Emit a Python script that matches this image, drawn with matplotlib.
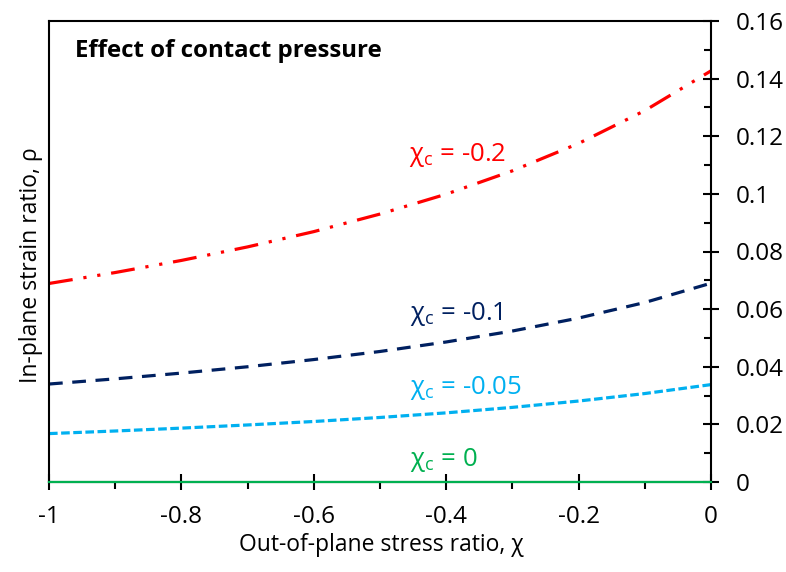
import matplotlib
matplotlib.use('Agg')
import matplotlib.pyplot as plt
from matplotlib.ticker import MultipleLocator

plt.rcParams['font.family'] = ['Open Sans', 'DejaVu Sans']
plt.rcParams['mathtext.fontset'] = 'custom'
plt.rcParams['mathtext.rm'] = 'Open Sans'

# out-of-plane stress ratio
chi = [-1.0, -0.9, -0.8, -0.7, -0.6, -0.5, -0.4, -0.3, -0.2, -0.1, 0.0]

# in-plane strain ratio for each contact pressure
rho_02 = [0.0689, 0.0727, 0.0769, 0.0816, 0.0869, 0.0930, 0.0999, 0.1080, 0.1175, 0.1289, 0.1427]
rho_01 = [0.0340, 0.0358, 0.0378, 0.0400, 0.0425, 0.0453, 0.0486, 0.0524, 0.0569, 0.0623, 0.0690]
rho_005 = [0.0168, 0.0177, 0.0187, 0.0198, 0.0210, 0.0224, 0.0240, 0.0259, 0.0281, 0.0307, 0.0338]
rho_0 = [0.0] * len(chi)

labels = ['χ$_\\mathrm{c}$ = -0.2', 'χ$_\\mathrm{c}$ = -0.1',
          'χ$_\\mathrm{c}$ = -0.05', 'χ$_\\mathrm{c}$ = 0']
label_pos = [(-0.456, 0.1135), (-0.454, 0.0583), (-0.454, 0.0326), (-0.454, 0.0076)]
colors = ['#FF0000', '#002060', '#00B0F0', '#00B050']

fig = plt.figure(figsize=(7.86, 5.72), dpi=100)
ax = fig.add_axes([49/786, 1-482/572, (711-49)/786, (482-21)/572])

ax.plot(chi, rho_02, color=colors[0], lw=2.3, dashes=(7.5, 3.4, 1, 3.4, 1, 3.4))
ax.plot(chi, rho_01, color=colors[1], lw=2.3, dashes=(4.3, 3))
ax.plot(chi, rho_005, color=colors[2], lw=2.3, dashes=(2.7, 1.1))
ax.plot(chi, rho_0, color=colors[3], lw=1.6, zorder=4, clip_on=False)

for lab, (x, y), c in zip(labels, label_pos, colors):
    ax.text(x, y, lab, color=c, fontsize=18.5, va='center', ha='left')

ax.text(0.039, 0.935, 'Effect of contact pressure', transform=ax.transAxes,
        fontsize=17.3, fontweight='bold', va='center', ha='left')

ax.set_xlim(-1, 0)
ax.set_ylim(0, 0.16)
ax.yaxis.tick_right()
ax.xaxis.set_major_locator(MultipleLocator(0.2))
ax.xaxis.set_minor_locator(MultipleLocator(0.1))
ax.yaxis.set_major_locator(MultipleLocator(0.02))
ax.yaxis.set_minor_locator(MultipleLocator(0.01))
ax.xaxis.set_major_formatter(plt.FuncFormatter(lambda v, p: '0' if abs(v) < 1e-9 else ('%g' % v)))
ax.yaxis.set_major_formatter(plt.FuncFormatter(lambda v, p: '0' if abs(v) < 1e-9 else ('%g' % v)))

ax.tick_params(axis='both', which='major', direction='inout', length=11, width=1.5,
               labelsize=17.5, colors='black')
ax.tick_params(axis='x', which='major', pad=11)
ax.tick_params(axis='y', which='major', pad=12)
ax.tick_params(axis='x', which='minor', direction='out', length=5, width=1.5)
ax.tick_params(axis='y', which='minor', direction='in', length=5, width=1.5)
for s in ax.spines.values():
    s.set_linewidth(1.5)

fig.text(381/786, 1-545/572, 'Out-of-plane stress ratio, χ', fontsize=16.5,
         ha='center', va='center')
fig.text(31/786, 1-265/572, 'In-plane strain ratio, ρ', fontsize=16.5,
         ha='center', va='center', rotation=90)

fig.savefig('out.png', dpi=100)
